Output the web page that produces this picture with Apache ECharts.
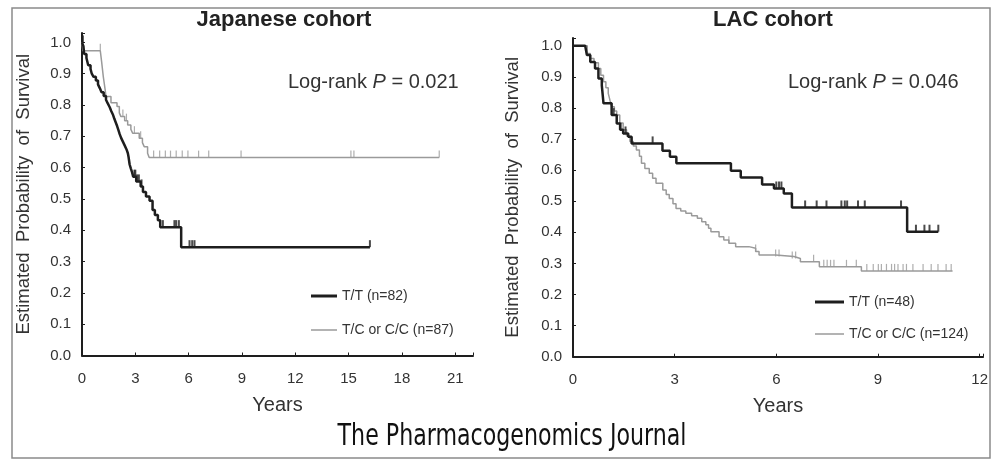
<!DOCTYPE html>
<html>
<head>
<meta charset="utf-8">
<title>Kaplan-Meier</title>
<script src="https://cdn.jsdelivr.net/npm/echarts@6/dist/echarts.min.js"></script>
<style>
	html, body { margin: 0; padding: 0; background: #fff; }
	#main { width: 991px; height: 460px; }
</style>
</head>
<body>
<div id="main"></div>
<script>
// Japanese cohort, T/T (n=82) : [years, survival]
var jpTT = [[0, 1.0], [0.08, 0.988], [0.12, 0.963], [0.25, 0.95], [0.35, 0.927], [0.48, 0.915], [0.55, 0.90],
	[0.65, 0.89], [0.78, 0.878], [0.9, 0.866], [1.0, 0.854], [1.1, 0.841], [1.22, 0.829], [1.35, 0.817],
	[1.45, 0.805], [1.56, 0.793], [1.65, 0.78], [1.75, 0.768], [1.82, 0.756], [1.9, 0.744], [1.98, 0.732],
	[2.05, 0.72], [2.12, 0.707], [2.2, 0.695], [2.3, 0.683], [2.4, 0.671], [2.5, 0.659], [2.58, 0.646],
	[2.62, 0.634], [2.68, 0.61], [2.75, 0.597], [2.82, 0.585], [2.88, 0.571], [3.05, 0.556], [3.3, 0.54],
	[3.43, 0.522], [3.6, 0.508], [3.8, 0.494], [3.97, 0.465], [4.1, 0.449], [4.27, 0.432], [4.4, 0.41],
	[5.58, 0.346], [16.2, 0.346]];
var jpTTCens = [[0.05, 1.0], [2.95, 0.571], [3.0, 0.571], [3.1, 0.556], [3.2, 0.556], [3.35, 0.54],
	[4.55, 0.41], [5.2, 0.41], [5.3, 0.41], [5.45, 0.41], [6.05, 0.346], [6.2, 0.346], [6.33, 0.346], [16.2, 0.346]];

// Japanese cohort, T/C or C/C (n=87)
var jpTC = [[0, 1.0], [0.05, 0.973], [1.03, 0.973], [1.1, 0.94], [1.2, 0.89], [1.3, 0.85], [1.35, 0.827],
	[1.63, 0.807], [1.97, 0.795], [2.1, 0.775], [2.19, 0.763], [2.4, 0.75], [2.57, 0.736], [2.75, 0.722],
	[2.85, 0.71], [3.22, 0.694], [3.4, 0.68], [3.5, 0.667], [3.69, 0.646], [3.78, 0.632], [20.1, 0.632]];
var jpTCCens = [[1.03, 0.973], [2.3, 0.763], [2.5, 0.75], [2.95, 0.71], [3.3, 0.694], [4.03, 0.632],
	[4.37, 0.632], [4.69, 0.632], [4.98, 0.632], [5.3, 0.632], [5.64, 0.632], [5.96, 0.632], [6.56, 0.632],
	[7.13, 0.632], [8.95, 0.632], [15.13, 0.632], [15.3, 0.632], [20.1, 0.632]];

// LAC cohort, T/T (n=48)
var lacTT = [[0, 1.0], [0.36, 1.0], [0.41, 0.97], [0.51, 0.948], [0.65, 0.927], [0.75, 0.895], [0.85, 0.873],
	[0.9, 0.815], [1.05, 0.815], [1.14, 0.777], [1.29, 0.75], [1.39, 0.73], [1.48, 0.718], [1.63, 0.707],
	[1.73, 0.686], [2.64, 0.662], [2.86, 0.643], [3.05, 0.622], [4.66, 0.598], [4.95, 0.576], [5.58, 0.554],
	[5.93, 0.541], [6.22, 0.525], [6.46, 0.48], [9.86, 0.402], [10.78, 0.402]];
var lacTTCens = [[1.2, 0.777], [1.4, 0.73], [1.55, 0.718], [2.35, 0.686], [6.0, 0.541], [6.08, 0.541],
	[6.15, 0.541], [6.85, 0.48], [7.19, 0.48], [7.48, 0.48], [7.92, 0.48], [8.02, 0.48], [8.09, 0.48],
	[8.41, 0.48], [8.61, 0.48], [9.68, 0.48], [10.12, 0.402], [10.37, 0.402], [10.52, 0.402], [10.78, 0.402]];

// LAC cohort, T/C or C/C (n=124)
var lacTC = [[0, 1.0], [0.36, 1.0], [0.42, 0.975], [0.51, 0.959], [0.62, 0.945], [0.75, 0.927], [0.82, 0.905],
	[0.9, 0.884], [0.97, 0.865], [1.04, 0.847], [1.09, 0.825], [1.14, 0.804], [1.22, 0.79], [1.29, 0.777],
	[1.38, 0.752], [1.48, 0.73], [1.58, 0.71], [1.68, 0.692], [1.78, 0.678], [1.87, 0.665], [1.96, 0.645],
	[2.02, 0.622], [2.12, 0.605], [2.25, 0.59], [2.35, 0.574], [2.45, 0.558], [2.65, 0.536], [2.75, 0.522],
	[2.84, 0.509], [2.95, 0.492], [3.04, 0.477], [3.18, 0.469], [3.33, 0.461], [3.5, 0.453], [3.67, 0.445],
	[3.8, 0.434], [3.92, 0.424], [4.0, 0.413], [4.07, 0.402], [4.31, 0.386], [4.45, 0.375], [4.6, 0.365],
	[4.8, 0.354], [5.19, 0.349], [5.39, 0.338], [5.49, 0.327], [5.98, 0.322], [6.52, 0.316], [6.71, 0.305],
	[7.27, 0.289], [8.51, 0.276], [11.2, 0.276]];
var lacTCCens = [[4.6, 0.365], [5.39, 0.338], [5.98, 0.322], [6.08, 0.322], [6.47, 0.316], [6.57, 0.316],
	[7.1, 0.305], [7.4, 0.289], [7.5, 0.289], [7.6, 0.289], [7.7, 0.289], [8.07, 0.289], [8.36, 0.289],
	[8.67, 0.276], [8.86, 0.276], [9.01, 0.276], [9.1, 0.276], [9.25, 0.276], [9.4, 0.276], [9.49, 0.276],
	[9.59, 0.276], [9.74, 0.276], [9.84, 0.276], [10.03, 0.276], [10.33, 0.276], [10.57, 0.276],
	[10.77, 0.276], [11.01, 0.276], [11.16, 0.276]];

var BLACK = '#1e1e1e';
var GRAY = '#9a9a9a';
var FONT = 'Liberation Sans, Arial, sans-serif';

function curve(name, data, color, width, idx) {
	return {
		name: name, type: 'line', step: 'end', data: data,
		xAxisIndex: idx, yAxisIndex: idx,
		symbol: 'none', silent: true,
		lineStyle: { color: color, width: width },
		itemStyle: { color: color },
		z: color == BLACK ? 4 : 3
	};
}

function censor(data, color, width, idx) {
	return {
		type: 'scatter', data: data,
		xAxisIndex: idx, yAxisIndex: idx,
		symbol: 'rect', symbolSize: [width, 7], symbolOffset: [0, -3.5],
		itemStyle: { color: color }, silent: true,
		z: color == BLACK ? 4 : 3
	};
}

// one legend per entry, so each swatch gets its own thickness
function legendItem(name, color, thick, x, y, w) {
	return {
		data: [{ name: name, icon: 'rect', itemStyle: { color: color } }],
		left: x, top: y - 8, padding: 0,
		itemWidth: w, itemHeight: thick,
		selectedMode: false,
		textStyle: { fontFamily: FONT, fontSize: 14, color: '#333' }
	};
}

function xAx(idx, max, interval) {
	return {
		type: 'value', gridIndex: idx, min: 0, max: max, interval: interval,
		name: 'Years', nameLocation: 'middle', nameGap: 40,
		nameTextStyle: { fontFamily: FONT, fontSize: 20, color: '#333' },
		axisLine: { lineStyle: { color: BLACK, width: 2 } },
		axisTick: { inside: true, length: 3, lineStyle: { color: BLACK } },
		axisLabel: {
			fontFamily: FONT, fontSize: 15, color: '#333', margin: 16,
			formatter: function(v) { return v % interval == 0 ? v + '' : ''; }
		},
		splitLine: { show: false }
	};
}

function yAx(idx, max, gap) {
	return {
		type: 'value', gridIndex: idx, min: 0, max: max, interval: 0.1,
		name: 'Estimated  Probability  of  Survival', nameLocation: 'middle', nameGap: gap,
		nameTextStyle: { fontFamily: FONT, fontSize: 18.5, color: '#333' },
		axisLine: { show: true, lineStyle: { color: BLACK, width: 2 } },
		axisTick: { show: true, inside: true, length: 3, lineStyle: { color: BLACK } },
		axisLabel: {
			fontFamily: FONT, fontSize: 15, color: '#333', margin: 11,
			formatter: function(v) { return v > 1.001 ? '' : v.toFixed(1); }
		},
		splitLine: { show: false }
	};
}

function logRank(x, p) {
	return {
		left: x, top: 67,
		text: '{a|Log-rank }{b|P}{a| = ' + p + '}',
		textStyle: {
			rich: {
				a: { fontFamily: FONT, fontSize: 20, fontWeight: 'normal', color: '#333' },
				b: { fontFamily: FONT, fontSize: 20, fontWeight: 'normal', color: '#333', fontStyle: 'italic' }
			}
		}
	};
}

var chart = echarts.init(document.getElementById('main'), null, { renderer: 'canvas' });

var option = {
	backgroundColor: '#fff',
	animation: false,
	title: [
		{ text: 'Japanese cohort', left: 279, top: 4, textAlign: 'center',
			textStyle: { fontFamily: FONT, fontSize: 22, fontWeight: 'bold', color: '#222' } },
		{ text: 'LAC cohort', left: 768, top: 4, textAlign: 'center',
			textStyle: { fontFamily: FONT, fontSize: 22, fontWeight: 'bold', color: '#222' } },
		logRank(283, '0.021'),
		logRank(783, '0.046')
	],
	legend: [
		legendItem('T/T (n=82)', BLACK, 3, 311, 297, 26),
		legendItem('T/C or C/C (n=87)', GRAY, 1.5, 311, 331, 26),
		legendItem('T/T (n=48)', BLACK, 3, 815, 303, 29),
		legendItem('T/C or C/C (n=124)', GRAY, 1.5, 815, 335, 29)
	],
	grid: [
		{ left: 82, top: 33, width: 391, height: 322.5 },
		{ left: 573, top: 38, width: 412, height: 318.7 }
	],
	xAxis: [xAx(0, 22, 3), xAx(1, 12.1, 3)],
	yAxis: [yAx(0, 1.03, 49), yAx(1, 1.025, 51)],
	graphic: [
		{ type: 'rect', shape: { x: 12, y: 8, width: 978, height: 450 },
			style: { fill: 'none', stroke: '#8a8a8a', lineWidth: 1.5 }, silent: true },
		{ type: 'text', x: 512, y: 437, scaleX: 0.82, silent: true,
			style: { text: 'The Pharmacogenomics Journal', align: 'center', verticalAlign: 'middle',
				font: '30px "Liberation Sans Narrow", "DejaVu Sans Condensed", sans-serif', fill: '#111' } }
	],
	series: [
		curve('T/C or C/C (n=87)', jpTC, GRAY, 1.5, 0),
		censor(jpTCCens, GRAY, 1.2, 0),
		curve('T/T (n=82)', jpTT, BLACK, 2.5, 0),
		censor(jpTTCens, BLACK, 2, 0),
		curve('T/C or C/C (n=124)', lacTC, GRAY, 1.5, 1),
		censor(lacTCCens, GRAY, 1.2, 1),
		curve('T/T (n=48)', lacTT, BLACK, 2.5, 1),
		censor(lacTTCens, BLACK, 2, 1)
	]
};

chart.setOption(option);
</script>
</body>
</html>
